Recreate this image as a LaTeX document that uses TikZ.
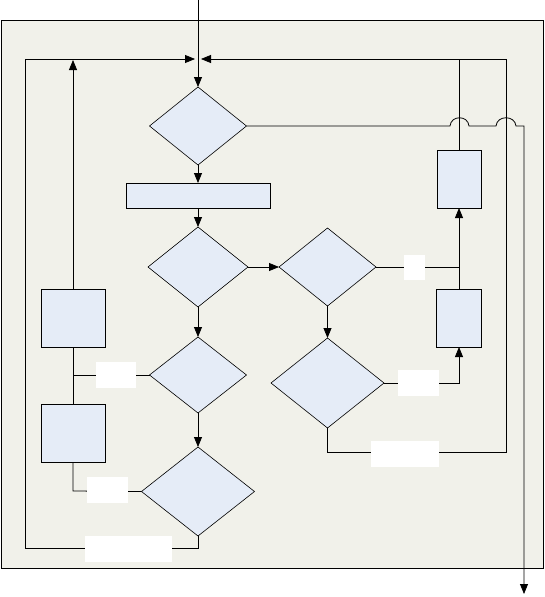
\documentclass[tikz,border=0pt]{standalone}
\usetikzlibrary{arrows.meta,shapes.geometric}
\definecolor{framefill}{HTML}{F1F1EA}
\definecolor{boxfill}{HTML}{E5ECF7}
\begin{document}
\begin{tikzpicture}[x=1pt,y=-1pt,
  line/.style={draw=black,line width=0.8pt},
  arr/.style={line,-{Triangle[length=10pt,width=8pt]}},
  dia/.style={draw=black,line width=0.6pt,fill=boxfill,diamond,inner sep=0pt,outer sep=0pt},
  boxn/.style={draw=black,line width=0.8pt,fill=boxfill,rectangle,inner sep=0pt,outer sep=0pt},
  lab/.style={fill=white,rectangle,inner sep=0pt,outer sep=0pt}]
\useasboundingbox (0,0) rectangle (545,597);
\draw[line,fill=framefill] (1,20) rectangle (543,568);
% shapes
\node[dia,minimum width=97pt,minimum height=78pt] (d1) at (198,126) {};
\node[boxn,minimum width=144pt,minimum height=25pt] (r0) at (198,195.5) {};
\node[dia,minimum width=100pt,minimum height=80pt] (d2) at (198,267) {};
\node[dia,minimum width=97pt,minimum height=78pt] (d3) at (327.5,267) {};
\node[dia,minimum width=113pt,minimum height=90pt] (d4) at (327.5,383) {};
\node[dia,minimum width=97pt,minimum height=76pt] (d5) at (198,375) {};
\node[dia,minimum width=113pt,minimum height=89pt] (d6) at (198,491.5) {};
\node[boxn,minimum width=64pt,minimum height=58pt] (L1) at (73,318) {};
\node[boxn,minimum width=64pt,minimum height=58pt] (L2) at (73,433) {};
\node[boxn,minimum width=44pt,minimum height=58pt] (R1) at (459,179) {};
\node[boxn,minimum width=45pt,minimum height=58pt] (R2) at (459,318) {};
% coordinates
\coordinate (in) at (198,0);
\coordinate (Jl) at (195,59);
\coordinate (Jr) at (201,59);
\coordinate (out) at (524,594);
\coordinate (Ltop) at (73,60);
\coordinate (Rj) at (459,267);
% connectors
\draw[arr] (in) -- (d1.north);
\draw[arr] (d6.south) -- (198,548) -- (25,548) -- (25,59) -- (Jl);
\draw[arr] (L1.north) -- (Ltop);
\draw[arr] (d4.south) -- (327.5,452) -- (506,452) -- (506,59) -- (Jr);
\draw[line] (R1.north) -- (459,59);
\draw[arr] (d1.east) -- (450,126) .. controls (451,115) and (468,115) .. (469,126)
  -- (496,126) .. controls (497,115) and (515,115) .. (516,126)
  -- (524,126) -- (out);
\draw[arr] (d1.south) -- (r0.north);
\draw[arr] (r0.south) -- (d2.north);
\draw[arr] (d2.east) -- (d3.west);
\draw[arr] (d2.south) -- (d5.north);
\draw[arr] (d3.south) -- (d4.north);
\draw[arr] (d5.south) -- (d6.north);
\draw[line] (d3.east) -- (Rj);
\draw[arr] (Rj) -- (R1.south);
\draw[line] (R2.north) -- (Rj);
\draw[arr] (d4.east) -- (459,383) -- (R2.south);
\draw[line] (d5.west) -- (73,375);
\draw[line] (L1.south) -- (L2.north);
\draw[line] (d6.west) -- (73,491) -- (L2.south);
% labels
\node[lab,minimum width=21pt,minimum height=25pt] (lb1) at (414.5,267.5) {};
\node[lab,minimum width=41pt,minimum height=26pt] (lb2) at (418.5,383) {};
\node[lab,minimum width=68pt,minimum height=26pt] (lb3) at (405,454) {};
\node[lab,minimum width=40pt,minimum height=26pt] (lb4) at (116,375) {};
\node[lab,minimum width=41pt,minimum height=26pt] (lb5) at (107.5,490) {};
\node[lab,minimum width=87pt,minimum height=26pt] (lb6) at (128.5,549) {};
\end{tikzpicture}
\end{document}
